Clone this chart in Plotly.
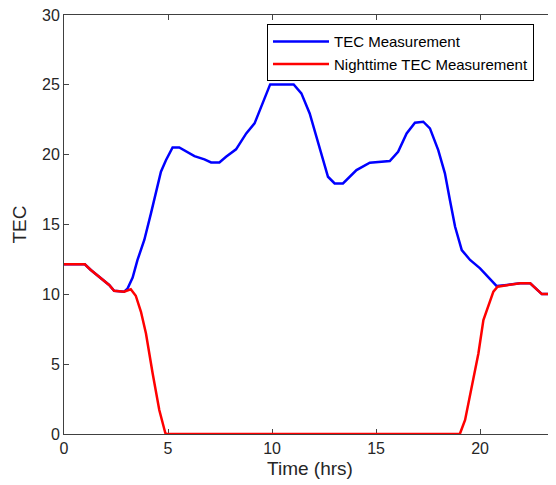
import plotly.graph_objects as go

tec_hours = [0, 1.0, 1.29, 1.85, 2.17, 2.41, 2.89, 3.05, 3.3, 3.53, 3.86, 4.18, 4.42, 4.66, 4.90,
             5.22, 5.54, 5.94, 6.27, 6.75, 7.07, 7.47, 7.79, 8.27, 8.76, 9.16, 9.56, 9.91, 11.04,
             11.41, 11.81, 12.13, 12.45, 12.69, 13.01, 13.41, 14.06, 14.7, 15.66, 16.06, 16.47,
             16.87, 17.27, 17.59, 17.99, 18.31, 18.55, 18.8, 19.12, 19.52, 20.0, 20.4, 20.8,
             21.29, 21.93, 22.41, 22.73, 22.97, 23.7]
tec_values = [12.15, 12.15, 11.74, 11.02, 10.67, 10.26, 10.19, 10.4, 11.2, 12.45, 13.89, 15.8,
              17.23, 18.78, 19.6, 20.52, 20.52, 20.2, 19.9, 19.66, 19.44, 19.44, 19.85, 20.38,
              21.52, 22.24, 23.79, 25.03, 25.03, 24.39, 22.95, 21.28, 19.61, 18.42, 17.94, 17.94,
              18.9, 19.42, 19.54, 20.21, 21.52, 22.29, 22.36, 21.88, 20.33, 18.66, 16.75, 14.84,
              13.17, 12.46, 11.86, 11.26, 10.59, 10.67, 10.79, 10.79, 10.31, 10.02, 10.02]

night_hours = [0, 1.0, 1.29, 1.85, 2.17, 2.41, 2.89, 3.21, 3.45, 3.7, 3.94, 4.26, 4.58, 4.87,
               4.95, 19.0, 19.04, 19.28, 19.6, 19.92, 20.16, 20.4, 20.64, 20.84, 21.29, 21.93,
               22.41, 22.73, 22.97, 23.7]
night_values = [12.15, 12.15, 11.74, 11.02, 10.67, 10.26, 10.19, 10.36, 9.9, 8.75, 7.2, 4.35,
                1.72, 0.07, 0, 0, 0.05, 1.0, 3.39, 5.77, 8.16, 9.23, 10.19, 10.55, 10.67, 10.79,
                10.79, 10.31, 10.02, 10.02]

x_ticks = [0, 5, 10, 15, 20]
y_ticks = [0, 5, 10, 15, 20, 25, 30]

fig = go.Figure()
fig.add_trace(go.Scatter(x=tec_hours, y=tec_values, mode="lines", name="TEC Measurement",
                         line=dict(color="#0000ff", width=2.5)))
fig.add_trace(go.Scatter(x=night_hours, y=night_values, mode="lines",
                         name="Nighttime TEC Measurement",
                         line=dict(color="#ff0000", width=2.5)))

axis_font = dict(family="Liberation Sans, Arial, sans-serif", size=16, color="#262626")
# page body has an 8px margin, so the figure is sized/offset to compensate
fig.update_layout(
    width=548, height=477,
    margin=dict(l=56, r=0, t=7, b=51),
    paper_bgcolor="white", plot_bgcolor="white",
    font=axis_font,
    showlegend=True,
    legend=dict(x=0.4126, y=0.978, xanchor="left", yanchor="top",
                bgcolor="white", bordercolor="black", borderwidth=1,
                itemwidth=56,
                font=dict(family="Liberation Sans, Arial, sans-serif", size=15, color="black"),
                tracegroupgap=0),
    xaxis=dict(range=[0, 23.65], tickvals=x_ticks, ticks="inside", ticklen=5,
               showline=True, linecolor="#404040", linewidth=1, mirror="ticks",
               showgrid=False, zeroline=False, layer="below traces", automargin=False,
               ticklabeloverflow="allow",
               title=dict(text="Time (hrs)", font=dict(size=19), standoff=5)),
    yaxis=dict(range=[0, 30], tickvals=y_ticks, ticks="inside", ticklen=5,
               showline=True, linecolor="#404040", linewidth=1, mirror=False,
               showgrid=False, zeroline=False, layer="below traces", automargin=False,
               ticklabeloverflow="allow",
               title=dict(text="TEC", font=dict(size=19), standoff=10)),
)

fig.write_html("out.html")
